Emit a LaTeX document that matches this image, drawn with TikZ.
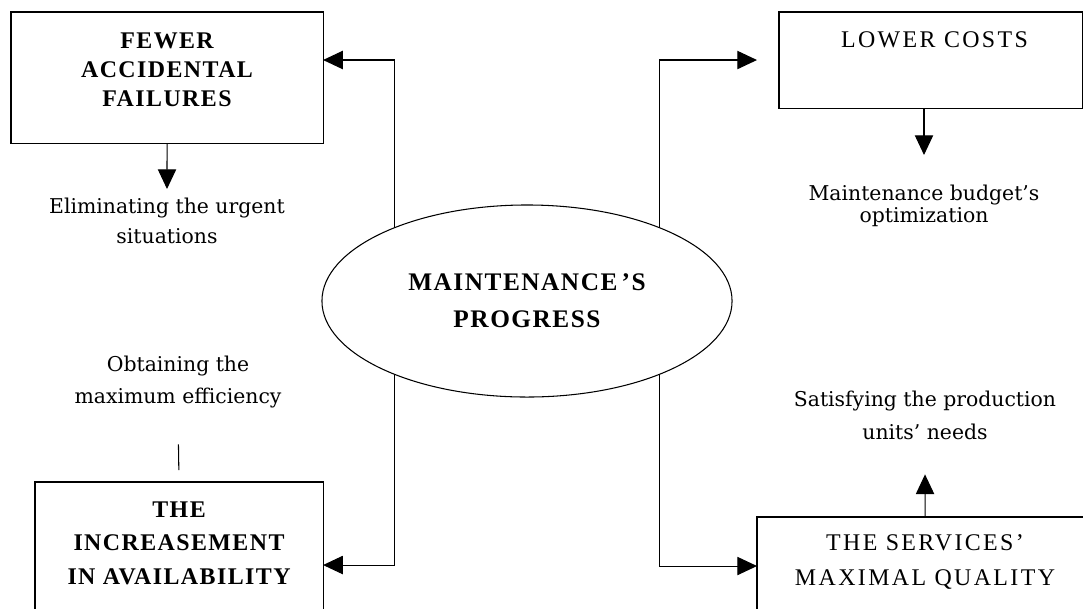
\documentclass[tikz,border=0pt]{standalone}
\usepackage{fontspec}
\setmainfont{Liberation Serif}
\newfontfamily\notefont{DejaVu Serif}
\newfontfamily\headfont[LetterSpace=10]{Liberation Serif}
\newfontfamily\boldfont[LetterSpace=6]{Liberation Serif}
\usetikzlibrary{arrows.meta,shapes.geometric,positioning}

\begin{document}
\begin{tikzpicture}[x=0.025cm, y=-0.025cm, line width=0.75pt]

        \tikzstyle{box}=[draw, rectangle, anchor=north west, inner sep=0pt, outer sep=0pt]
        \tikzstyle{head}=[inner sep=0pt, align=center]
        \tikzstyle{note}=[anchor=north, inner sep=6pt, align=center]
        \tikzstyle{arr}=[arrows={-Triangle[length=14pt,width=13pt]}]
        \tikzset{notescale/.style = {font={\notefont\fontsize{14.5pt}{#1pt}\selectfont}}}
        \tikzset{headscale/.style 2 args = {font={\headfont\fontsize{#1pt}{#2pt}\selectfont}}}
        \tikzset{boldscale/.style 2 args = {font={\boldfont\bfseries\fontsize{#1pt}{#2pt}\selectfont}}}

        % white page of the size of the picture
        \path[use as bounding box, fill=white] (0,0) rectangle (1083,608);

        % Draw the central ellipse
        \node[ellipse, draw, inner sep=0pt, outer sep=0pt, minimum width=10.25cm, minimum height=4.8cm,
              align=center, boldscale={18}{26.3}] (Ml) at (527,301) {MAINTENANCE\,’S\\PROGRESS};

        % Draw the boxes
        \node[box, minimum width=7.8cm, minimum height=3.275cm] (Bx-1) at (11,12) {};
        \node[box, minimum width=7.575cm, minimum height=2.4cm] (Bx-2) at (779,12) {};
        \node[box, minimum width=7.2cm, minimum height=4.15cm] (Bx-3) at (35,482) {};
        \node[box, minimum width=8.4cm, minimum height=2.45cm] (Bx-4) at (757,517) {};

        % Box titles
        \node[head, boldscale={17}{20.7}, below=0.51cm of Bx-1.north] (Tx-1) {FEWER\\ACCIDENTAL\\FAILURES};
        \node[head, headscale={17}{20}, below=0.47cm of Bx-2.north, xshift=0.1cm] (Tx-2) {LOWER COSTS};
        \node[head, boldscale={17}{23.8}, below=0.48cm of Bx-3.north] (Tx-3) {THE\\INCREASEMENT\\IN AVAILABILITY};
        \node[head, headscale={17}{24.9}, below=0.43cm of Bx-4.north] (Tx-4) {THE SERVICES’\\MAXIMAL QUALITY};

        % Draw the notes
        \node[note, notescale=21.3] (Nt-1) at (167,189) {Eliminating the urgent\\situations};
        \node[note, notescale=15.6] (Nt-2) at (924,176) {Maintenance budget’s\\optimization};
        \node[note, notescale=22.7] (Nt-3) at (178,347) {Obtaining the\\maximum efficiency};
        \node[note, notescale=23.5] (Nt-4) at (925,382) {Satisfying the production\\units’ needs};

        % Connect the ellipse with the boxes
        \draw[arr] (Ml.151) |- (Bx-1.east |- 0,60);
        \draw[arr, shorten >=0.55cm] (Ml.29) |- (Bx-2.west);
        \draw[arr] (Ml.209) |- (Bx-3.east);
        \draw[arr] (Ml.331) |- (Bx-4.west);

        % Connect the boxes with the notes
        \draw[arr] (Bx-1.south) -- (Nt-1.north);
        \draw[arr, shorten >=0.525cm] (Bx-2.south -| Nt-2.north) -- (Nt-2.north);
        \draw[shorten <=0.69cm, shorten >=0.3cm] (Nt-3.south) -- (Bx-3.north);
        \draw[arr, shorten >=0.64cm] (Bx-4.north) -- (Nt-4.south);

\end{tikzpicture}
\end{document}
